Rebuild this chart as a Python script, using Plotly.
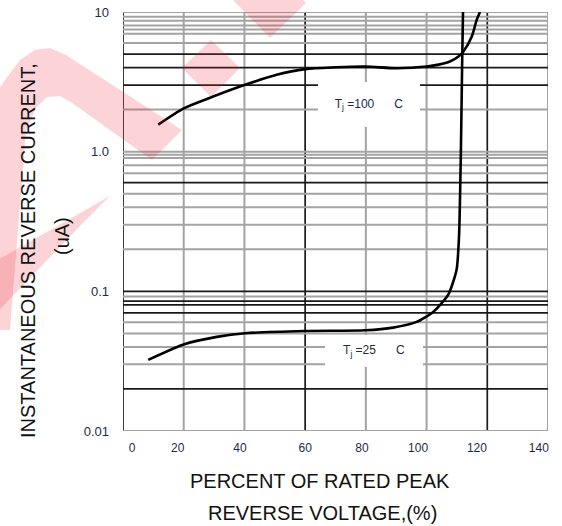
import plotly.graph_objects as go

# ---------------- data ----------------
pct_tj100 = [11.6, 20.2, 29.7, 40.2, 50.6, 60.0, 70.0, 79.9, 90.2, 100.0, 104.0, 107.7, 110.5, 112.1, 114.9, 116.5, 117.6]
cur_tj100 = [1.56, 2.05, 2.48, 3.01, 3.55, 3.90, 4.02, 4.07, 3.96, 4.07, 4.20, 4.42, 4.80, 5.20, 6.67, 8.77, 10.0]

pct_tj25 = [8.3, 20.2, 30.9, 40.2, 60.0, 79.9, 89.0, 96.7, 102.2, 107.2, 109.9, 110.7, 111.3, 111.7, 112.0]
cur_tj25 = [0.0323, 0.0418, 0.0472, 0.0501, 0.0520, 0.0526, 0.0550, 0.0604, 0.0712, 0.0952, 0.1436, 0.25, 1.0, 4.0, 10.0]

x_ticks = [0, 20, 40, 60, 80, 100, 120, 140]
x_tick_labels = ["0", "20", "40", "60", "80", "100", "120", "140"]
y_ticks = [0.01, 0.1, 1, 10]
y_tick_labels = ["0.01", "0.1", "1.0", "10"]

# grid lines (value, dark?)
x_grid = [0, 20, 40, 60, 80, 100, 120, 140]
x_grid_dark = [True, False, False, True, False, False, True, False]
y_grid = [10, 9.25, 8.66, 8, 7.5, 7, 6, 5, 4, 3, 2,
          1, 0.95, 0.9, 0.8, 0.7, 0.6, 0.5, 0.4, 0.3, 0.2,
          0.1, 0.092, 0.085, 0.08, 0.07, 0.06, 0.05, 0.04, 0.03, 0.02, 0.01]
y_grid_dark = [False, False, False, False, False, False, False, True, True, True, False,
               False, False, False, False, False, True, False, False, False, False,
               True, False, True, True, True, False, False, False, False, True, False]

# ---------------- layout constants ----------------
W, H = 562, 526
L, R, T, B = 123, 14, 12, 95
PW, PH = W - L - R, H - T - B
FONT = "Liberation Sans, Arial, sans-serif"
DARK = "#1a1a1a"
GRAY = "#a3a3a3"
TXT = "#1c2a48"
x_label_shift = [3, -2, -1.5, 0, -1.3, -2.8, -3.4, -3]


def px_path(pts):
    s = []
    for i, (px, py) in enumerate(pts):
        xp = (px - L) / PW
        yp = (H - B - py) / PH
        s.append(("M" if i == 0 else "L") + f"{xp:.4f},{yp:.4f}")
    return " ".join(s) + " Z"


fig = go.Figure()
fig.add_trace(go.Scatter(x=pct_tj100, y=cur_tj100, mode="lines",
                         line=dict(color="black", width=2.6, shape="spline", smoothing=0.8),
                         showlegend=False, hoverinfo="skip", cliponaxis=True))
fig.add_trace(go.Scatter(x=pct_tj25, y=cur_tj25, mode="lines",
                         line=dict(color="black", width=2.6, shape="spline", smoothing=0.6),
                         showlegend=False, hoverinfo="skip", cliponaxis=True))

shapes = []
for xv, dk in zip(x_grid, x_grid_dark):
    shapes.append(dict(type="line", xref="x", yref="paper", x0=xv, x1=xv, y0=0, y1=1,
                       line=dict(color=DARK if dk else GRAY, width=1.7 if dk else 2), layer="below"))
for yv, dk in zip(y_grid, y_grid_dark):
    shapes.append(dict(type="line", xref="paper", yref="y", x0=0, x1=1, y0=yv, y1=yv,
                       line=dict(color=DARK if dk else GRAY, width=1.7 if dk else 2), layer="below"))

# watermark (decorative)
PINK = "rgba(240,40,60,0.20)"
wm = [
    [(-30, 330), (-30, 130), (5, 80), (20, 60), (35, 50), (50, 48), (66, 55), (182, 130), (152, 160),
     (72, 103), (60, 96), (47, 97), (36, 108), (26, 130), (10, 330)],
    [(110, 196), (80, 226), (-20, 330), (-20, 270)],
    [(182, 68), (211, 40), (240, 68), (211, 97)],
    [(233, 0), (270, 38), (306, 3), (303, 0)],
]
for poly in wm:
    shapes.append(dict(type="path", xref="paper", yref="paper", path=px_path(poly),
                       fillcolor=PINK, line=dict(width=0), layer="above"))

annotations = [
    dict(x=81.0, y=0.339, xref="x", yref="y",
         text="T<sub>j</sub> =100\u00a0\u00a0\u00a0\u00a0\u00a0\u00a0C", showarrow=False,
         font=dict(family=FONT, size=12, color=TXT), bgcolor="white",
         width=102, height=45, borderpad=0, borderwidth=0),
    dict(x=82.7, y=-1.4286, xref="x", yref="y",
         text="T<sub>j</sub> =25\u00a0\u00a0\u00a0\u00a0\u00a0\u00a0C", showarrow=False,
         font=dict(family=FONT, size=12, color=TXT), bgcolor="white",
         width=98, height=32, borderpad=0, borderwidth=0),
    dict(x=(28 - L) / PW, y=(H - B - 251) / PH, xref="paper", yref="paper",
         text="INSTANTANEOUS REVERSE CURRENT,", textangle=-90, showarrow=False,
         xanchor="center", yanchor="middle", font=dict(family=FONT, size=20, color="#111")),
    dict(x=(62 - L) / PW, y=(H - B - 236) / PH, xref="paper", yref="paper",
         text="(uA)", textangle=-90, showarrow=False,
         xanchor="center", yanchor="middle", font=dict(family=FONT, size=20, color="#111")),
    dict(x=(320 - L) / PW, y=(H - B - 481) / PH, xref="paper", yref="paper",
         text="PERCENT OF RATED PEAK", showarrow=False,
         xanchor="center", yanchor="middle", font=dict(family=FONT, size=20, color="#111")),
    dict(x=(322 - L) / PW, y=(H - B - 513) / PH, xref="paper", yref="paper",
         text="REVERSE VOLTAGE,(%)", showarrow=False,
         xanchor="center", yanchor="middle", font=dict(family=FONT, size=20, color="#111")),
]

fig.update_layout(
    width=W, height=H, autosize=False,
    margin=dict(l=L, r=R, t=T, b=B, pad=0),
    paper_bgcolor="white", plot_bgcolor="white",
    shapes=shapes, annotations=annotations,
    xaxis=dict(range=[0, 140], showgrid=False, zeroline=False, showline=False, automargin=False,
               tickmode="array", tickvals=[v + s for v, s in zip(x_ticks, x_label_shift)],
               ticktext=x_tick_labels, ticks="", ticklabelstandoff=8,
               tickfont=dict(family=FONT, size=12, color=TXT), fixedrange=True),
    yaxis=dict(type="log", range=[-2, 1], showgrid=False, zeroline=False, showline=False, automargin=False,
               tickmode="array", tickvals=y_ticks, ticktext=y_tick_labels, ticks="",
               ticklabelstandoff=13, tickfont=dict(family=FONT, size=13, color=TXT), fixedrange=True),
    showlegend=False,
)

fig.write_html("out.html", config={"displayModeBar": False},
               post_script="document.body.style.margin='0';")
